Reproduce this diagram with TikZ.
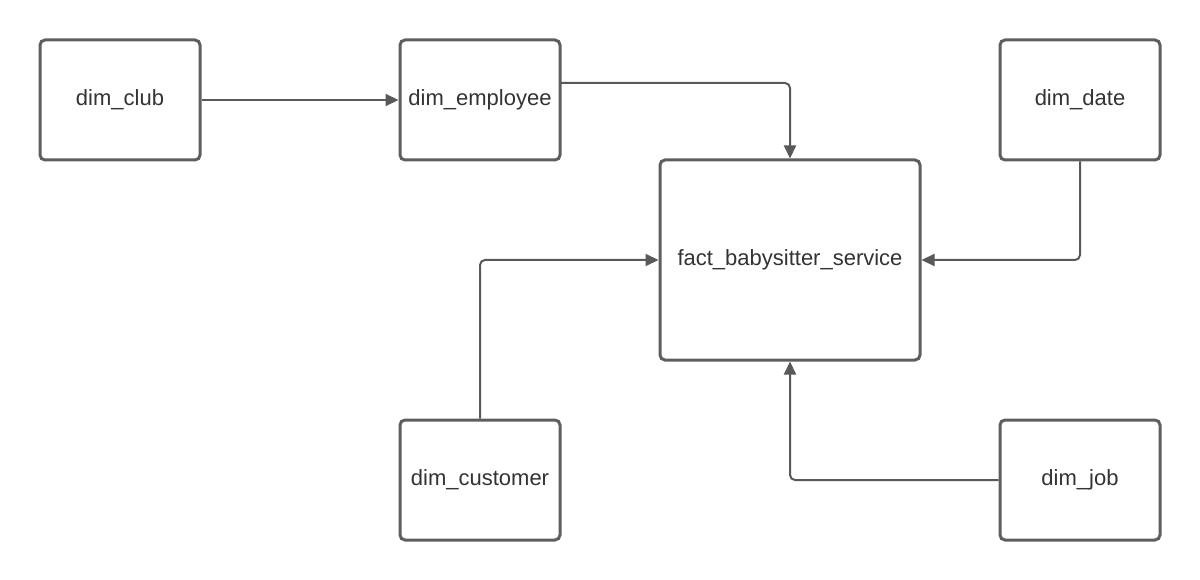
\documentclass[tikz,border=0pt]{standalone}
\usepackage{fontspec}
\setmainfont{Liberation Sans}
\usetikzlibrary{arrows.meta}
\definecolor{boxline}{HTML}{5E5E5E}
\definecolor{conn}{HTML}{595959}
\definecolor{txt}{HTML}{333333}
\begin{document}
\begin{tikzpicture}[x=1pt,y=-1pt,
  tbl/.style={draw=boxline, line width=3pt, rounded corners=5pt, fill=white,
    minimum width=160pt, minimum height=120pt, inner sep=0pt,
    text=txt, font=\fontsize{22}{26}\selectfont},
  conn/.style={draw=conn, line width=2pt, rounded corners=5pt,
    -{Triangle[length=13pt,width=12pt]}}]
\useasboundingbox (0,0) rectangle (1200,580);
\node[tbl] (club) at (120,100) {dim\_club};
\node[tbl] (emp) at (480,100) {dim\_employee};
\node[tbl] (date) at (1080,100) {dim\_date};
\node[tbl, minimum width=260pt, minimum height=200pt] (fact) at (790,260) {fact\_babysitter\_service};
\node[tbl] (cust) at (480,480) {dim\_customer};
\node[tbl] (job) at (1080,480) {dim\_job};
\coordinate (empo) at (560,83);
\draw[conn] (club.east) -- (emp.west);
\draw[conn] (empo) -| (fact.north);
\draw[conn] (date.south) |- (fact.east);
\draw[conn] (cust.north) |- (fact.west);
\draw[conn] (job.west) -| (fact.south);
\end{tikzpicture}
\end{document}
